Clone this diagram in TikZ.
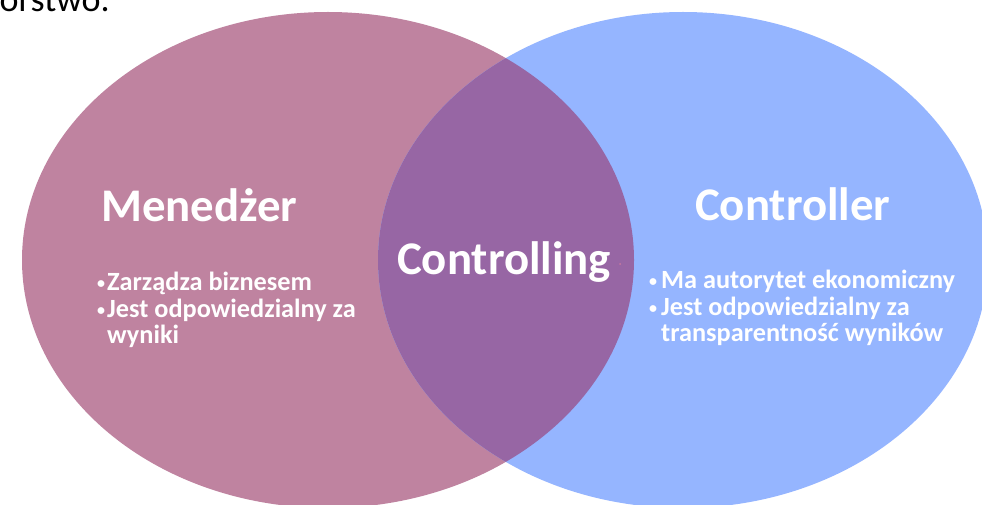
\documentclass[tikz,border=0pt]{standalone}
\usepackage{fontspec}
\setmainfont{Carlito}
\definecolor{mgr}{RGB}{191,131,160}
\definecolor{ctr}{RGB}{149,181,255}
\definecolor{ovl}{RGB}{151,102,164}
\definecolor{dotc}{RGB}{200,120,160}
\tikzset{
  title/.style={anchor=base west,inner sep=0pt,text=white,font=\fontsize{46.8}{52}\selectfont\bfseries},
  item/.style={anchor=base west,inner sep=0pt,text=white,font=\fontsize{26.3}{30}\selectfont\bfseries},
  toptext/.style={anchor=base east,inner sep=0pt,text=black,font=\fontsize{36}{42}\selectfont}
}
\newcommand{\bul}[1]{\makebox[#1][l]{\raisebox{2pt}{\fontsize{16}{16}\selectfont\textbullet}}}
\begin{document}
\begin{tikzpicture}[x=1pt,y=-1pt]
\useasboundingbox (0,0) rectangle (982,505);
\clip (0,0) rectangle (982,505);
\fill[white] (0,0) rectangle (982,505);
\node[toptext] (top) at (110,12) {przedsiębiorstwo.};
\fill[mgr] (328,260) ellipse [x radius=306pt, y radius=248pt];
\fill[ctr] (683,260) ellipse [x radius=305pt, y radius=248pt];
\begin{scope}
  \clip (328,260) ellipse [x radius=306pt, y radius=248pt];
  \fill[ovl] (683,260) ellipse [x radius=305pt, y radius=248pt];
\end{scope}
\node[title] (mgrT) at (101,222) {Menedżer};
\node[title] (ctrT) at (695,220) {Controller};
\node[title] (mid) at (397,274) {Controlling};
\fill[dotc] (620,264) circle [radius=1pt];
\node[item] (l1) at (97,290) {\bul{10pt}Zarządza biznesem};
\node[item] (l2) at (97,317) {\bul{10pt}Jest odpowiedzialny za};
\node[item] (l3) at (97,343) {\hspace{10pt}wyniki};
\node[item] (r1) at (649,288) {\bul{12pt}Ma autorytet ekonomiczny};
\node[item] (r2) at (649,315) {\bul{12pt}Jest odpowiedzialny za};
\node[item] (r3) at (649,341) {\hspace{12pt}transparentność wyników};
\end{tikzpicture}
\end{document}
